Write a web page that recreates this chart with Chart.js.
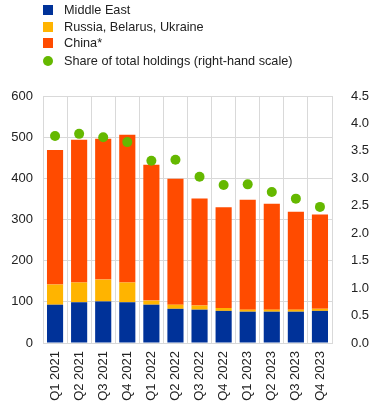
<!DOCTYPE html>
<html>
<head>
<meta charset="utf-8">
<script src="https://cdn.jsdelivr.net/npm/chart.js@4"></script>
<style>
    body { margin: 0; background: #fff; font-family: "Liberation Sans", Arial, sans-serif; }
    #wrap { position: relative; width: 371px; height: 405px; }
    #legend { position: absolute; left: 43px; top: 2px; font-size: 12.7px; color: #222; }
    .item { height: 16.5px; line-height: 16.5px; white-space: nowrap; }
    .item:last-child { margin-top: 1.5px; }
    .sw { display: inline-block; width: 10px; height: 10px; margin-right: 11px; vertical-align: -1px; }
    .dot { border-radius: 50%; }
</style>
</head>
<body>
<div id="wrap">
    <canvas id="chart" width="371" height="405"></canvas>
    <div id="legend"></div>
</div>
<script>
// Kategoriler (çeyrekler)
const quarters = ["Q1 2021", "Q2 2021", "Q3 2021", "Q4 2021", "Q1 2022", "Q2 2022",
                  "Q3 2022", "Q4 2022", "Q1 2023", "Q2 2023", "Q3 2023", "Q4 2023"];

// Yığılmış seriler (sol eksen)
const middleEast = [93, 99, 101, 99, 93, 83, 81, 78, 76, 76, 76, 78];
const russiaBelUkr = [49, 48, 53, 48, 10, 10, 10, 7, 5, 5, 5, 5];
const china = [327, 347, 342, 359, 330, 306, 260, 245, 267, 257, 238, 229];

// Toplam içindeki pay (sağ eksen)
const shareTotal = [3.77, 3.81, 3.75, 3.66, 3.32, 3.34, 3.03, 2.88, 2.89, 2.75, 2.63, 2.48];

const COLORS = { blue: "#003299", yellow: "#ffb400", orange: "#ff4b00", green: "#65b800" };
const GRID = "#d9d9d9";
const FONT = { family: "'Liberation Sans', Arial, sans-serif", size: 13 };

const legendItems = [
    { label: "Middle East", color: COLORS.blue },
    { label: "Russia, Belarus, Ukraine", color: COLORS.yellow },
    { label: "China*", color: COLORS.orange },
    { label: "Share of total holdings (right-hand scale)", color: COLORS.green, dot: true }
];
document.getElementById("legend").innerHTML = legendItems.map((it) =>
    `<div class="item"><span class="sw${it.dot ? " dot" : ""}" style="background:${it.color}"></span>${it.label}</div>`
).join("");

const bar = (label, data, color) => ({
    type: "bar", label, data, backgroundColor: color, yAxisID: "y",
    stack: "s", barPercentage: 0.67, categoryPercentage: 1, order: 2
});

new Chart(document.getElementById("chart").getContext("2d"), {
    data: {
        labels: quarters,
        datasets: [
            bar("Middle East", middleEast, COLORS.blue),
            bar("Russia, Belarus, Ukraine", russiaBelUkr, COLORS.yellow),
            bar("China*", china, COLORS.orange),
            {
                type: "line", label: "Share of total holdings", data: shareTotal, yAxisID: "y1",
                showLine: false, pointRadius: 5, pointHoverRadius: 5,
                pointBackgroundColor: COLORS.green, pointBorderWidth: 0, order: 1
            }
        ]
    },
    options: {
        responsive: false,
        animation: false,
        layout: { padding: { top: 96, left: 0, right: 0, bottom: 0 } },
        plugins: { legend: { display: false }, tooltip: { enabled: false } },
        scales: {
            x: {
                stacked: true,
                afterFit: (s) => { s.height = 62; },
                grid: { color: GRID, drawTicks: false, offset: true },
                border: { color: GRID },
                ticks: { color: "#222", font: FONT, minRotation: 90, maxRotation: 90, padding: 8 }
            },
            y: {
                stacked: true, position: "left", min: 0, max: 600,
                afterFit: (s) => { s.width = 43; },
                grid: { color: GRID, drawTicks: false },
                border: { color: GRID },
                ticks: { stepSize: 100, color: "#222", font: FONT, padding: 10 }
            },
            y1: {
                position: "right", min: 0, max: 4.5,
                afterFit: (s) => { s.width = 39; },
                grid: { display: false },
                border: { color: GRID },
                ticks: { stepSize: 0.5, color: "#222", font: FONT, padding: 11,
                         callback: (v) => v.toFixed(1) }
            }
        }
    }
});
</script>
</body>
</html>
